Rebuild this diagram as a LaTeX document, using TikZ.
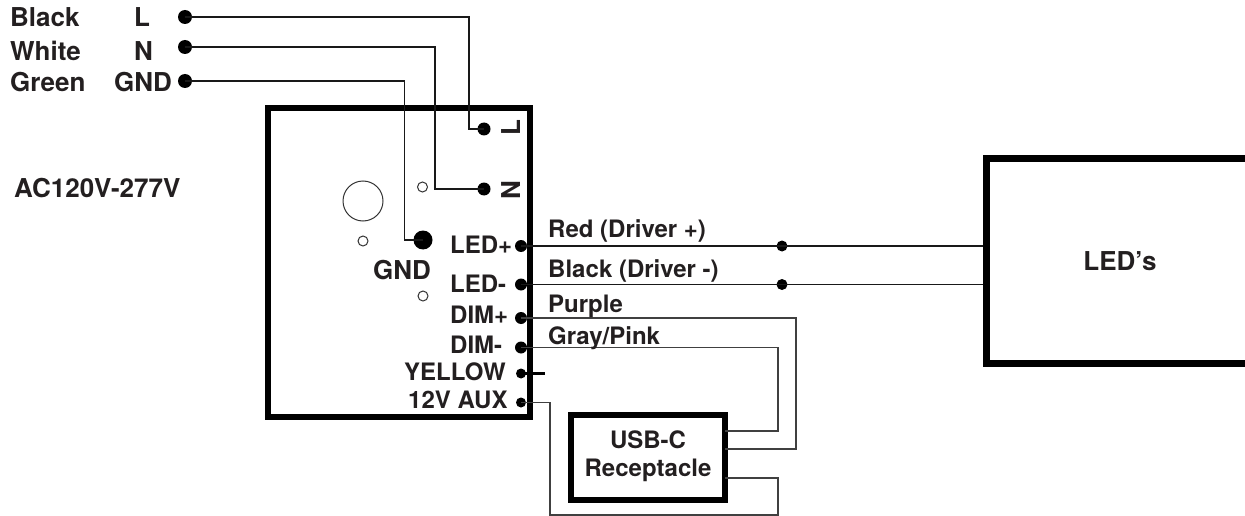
\documentclass[tikz,border=0pt]{standalone}
\usepackage{fontspec}
\setmainfont{TeX Gyre Heros}

\definecolor{inkdark}{HTML}{231F20}

\tikzset{
    smalltext/.style = {inner sep = 0pt, anchor = base west, text = inkdark, font = \fontsize{24}{30}\selectfont\bfseries},
    bigtext/.style = {inner sep = 0pt, anchor = base west, text = inkdark, font = \fontsize{26}{30}\selectfont\bfseries},
    blackdot/.style = {circle, fill = black, inner sep = 0pt, minimum size = #1},
    holedot/.style = {circle, draw = black!80, line width = 1pt, inner sep = 0pt, minimum size = #1},
    wire/.style = {line width = 1.9pt, black!90},
    thinwire/.style = {line width = 1.6pt, black!75}
}

\begin{document}
    \begin{tikzpicture}[x = 1pt, y = -1pt]
        \useasboundingbox (0, 0) rectangle (1245, 516);

        % Блоки
        \node (driver) [draw, line width = 5.5pt, inner sep = 0pt, minimum width = 262pt, minimum height = 309pt] at (399, 262.5) {};
        \node (leds) [draw, line width = 7pt, inner sep = 0pt, minimum width = 268pt, minimum height = 204.5pt, text = inkdark, font = \fontsize{26}{30}\selectfont\bfseries] at (1120, 261) {LED's};
        \node (usb) [draw, line width = 6pt, inner sep = 0pt, minimum width = 154pt, minimum height = 85pt] at (648, 457) {};
        \node (usbtop) [smalltext, anchor = center] at (648, 440) {USB-C};
        \node (usbbot) [smalltext, anchor = center] at (648, 470) {Receptacle};

        % Входные провода
        \node (inL) [blackdot = 14pt] at (185, 17) {};
        \node (inN) [blackdot = 14pt] at (185, 47) {};
        \node (inG) [blackdot = 14pt] at (185, 81) {};
        \node (termL) [blackdot = 13pt] at (484, 129) {};
        \node (termN) [blackdot = 13pt] at (484, 189) {};
        \node (termG) [blackdot = 19pt] at (423, 240) {};
        \coordinate (cornerL) at (469, 129);
        \coordinate (cornerN) at (435, 189);
        \coordinate (cornerG) at (404.5, 240);
        \draw [wire] (inL.center) -| (cornerL) -- (termL.center);
        \draw [wire] (inN.center) -| (cornerN) -- (termN.center);
        \draw [wire] (inG.center) -| (cornerG) -- (termG.center);

        % Отверстия
        \node (bighole) [holedot = 40pt] at (363, 201) {};
        \node (holeA) [holedot = 10pt] at (422.5, 187) {};
        \node (holeB) [holedot = 10pt] at (363, 241) {};
        \node (holeC) [holedot = 10pt] at (423, 296) {};

        % Выводы драйвера
        \node (ledplus) [blackdot = 12pt] at (521, 246) {};
        \node (ledminus) [blackdot = 12pt] at (521, 284.5) {};
        \node (dimplus) [blackdot = 12pt] at (521, 318) {};
        \node (dimminus) [blackdot = 12pt] at (521, 347.5) {};
        \node (yellow) [blackdot = 10pt] at (521, 373.5) {};
        \node (aux) [blackdot = 10pt] at (521, 402.5) {};

        % Провода к светодиодам
        \node (joinA) [blackdot = 11pt] at (782, 246) {};
        \node (joinB) [blackdot = 11pt] at (782, 284.5) {};
        \draw [wire] (ledplus.center) -- (joinA.center) -- (leds.west |- joinA);
        \draw [wire] (ledminus.center) -- (joinB.center) -- (leds.west |- joinB);

        % Провода к USB-C
        \coordinate (usbA) at (725, 431);
        \coordinate (usbB) at (725, 449);
        \coordinate (usbC) at (725, 478);
        \coordinate (stub) at (545, 373.5);
        \coordinate (lowR) at (778, 515);
        \coordinate (lowL) at (550, 515);
        \draw [thinwire] (dimplus.center) -| (796, 449) -- (usbB);
        \draw [thinwire] (dimminus.center) -| (778, 431) -- (usbA);
        \draw [thinwire] (usbC) -| (lowR) -- (lowL) |- (aux.center);
        \draw [line width = 2.6pt] (yellow.center) -- (stub);

        % Подписи слева
        \node (txtBlack) [bigtext] at (10, 27) {Black};
        \node (txtWhite) [bigtext] at (10, 61) {White};
        \node (txtGreen) [bigtext] at (10, 91.5) {Green};
        \node (txtL) [bigtext] at (134, 27) {L};
        \node (txtN) [bigtext] at (134, 61) {N};
        \node (txtG) [bigtext] at (114, 91.5) {GND};
        \node (txtAC) [bigtext] at (14, 197) {AC120V-277V};

        % Подписи на драйвере
        \node (pinL) [bigtext, anchor = center, rotate = 90] at (511, 128) {L};
        \node (pinN) [bigtext, anchor = center, rotate = 90] at (511, 190) {N};
        \node (txtGnd) [bigtext] at (373, 279) {GND};
        \node (txtLedP) [smalltext] at (450, 253) {LED+};
        \node (txtLedM) [smalltext] at (450, 292) {LED-};
        \node (txtDimP) [smalltext] at (450, 323) {DIM+};
        \node (txtDimM) [smalltext] at (450, 353) {DIM-};
        \node (txtYel) [smalltext] at (404, 380) {YELLOW};
        \node (txtAux) [smalltext] at (408, 408.5) {12V AUX};

        % Подписи проводов
        \node (txtRed) [smalltext] at (548, 237) {Red (Driver +)};
        \node (txtBlk) [smalltext] at (548, 277) {Black (Driver -)};
        \node (txtPur) [smalltext] at (548, 312) {Purple};
        \node (txtGray) [smalltext] at (548, 344) {Gray/Pink};
    \end{tikzpicture}
\end{document}
